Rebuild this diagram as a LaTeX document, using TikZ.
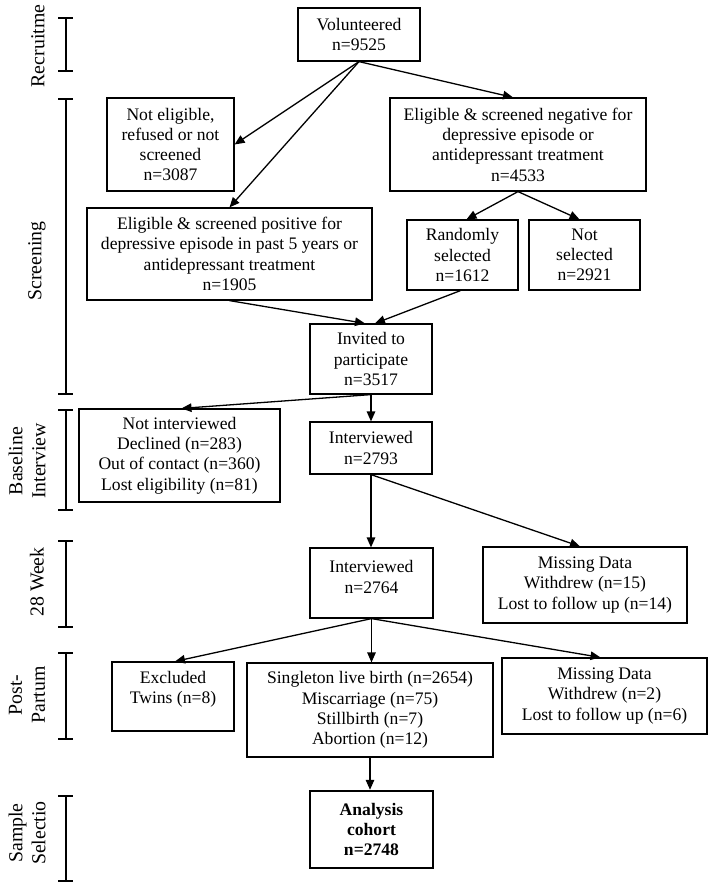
\documentclass[tikz,border=0pt]{standalone}
\usepackage{fontspec}
\setmainfont{Liberation Serif}
\usetikzlibrary{arrows.meta}
\begin{document}
\begin{tikzpicture}[x=1pt,y=-1pt,
  box/.style={draw, line width=1.2pt, align=center, inner sep=0pt, font=\fontsize{17.6}{20.3}\selectfont},
  plaintext/.style={align=center, inner sep=0pt, font=\fontsize{17.6}{20.3}\selectfont},
  thickbox/.style={box, line width=2.4pt, font=\fontsize{17.6}{20.3}\selectfont\bfseries},
  arr/.style={-{Triangle[length=10pt,width=8.5pt]}, line width=1.3pt},
  stagelab/.style={rotate=90, align=center, font=\fontsize{19.8}{23}\selectfont, inner sep=0pt},
  bracket/.style={line width=1.2pt}]
\useasboundingbox (0,0) rectangle (714,889);

% stage brackets
\foreach \a/\b in {18/71, 99/394, 410/510, 541/627, 653/739, 796/881}{
  \draw[bracket] (66,\a)--(66,\b) (58,\a)--(73,\a) (58,\b)--(73,\b);
}
\node[stagelab] (l1) at (38,46) {Recruitme};
\node[stagelab] (l2) at (37,261) {Screening};
\node[stagelab] (l3) at (27,461) {Baseline\\Interview};
\node[stagelab] (l4) at (37,582) {28 Week};
\node[stagelab] (l5) at (27,695) {Post-\\Partum};
\node[stagelab] (l6) at (27,833) {Sample\\Selectio};

% boxes
\node[box, minimum width=122pt, minimum height=53pt] (vol) at (359,34.5) {Volunteered\\n=9525};
\node[box, minimum width=127pt, minimum height=93pt] (notel) at (170.5,144.5) {Not eligible,\\refused or not\\screened\\n=3087};
\node[box, minimum width=256pt, minimum height=93pt] (neg) at (518,144.5) {Eligible \& screened negative for\\depressive episode or\\antidepressant treatment\\n=4533};
\node[box, minimum width=285pt, minimum height=92pt] (pos) at (229.5,254) {Eligible \& screened positive for\\depressive episode in past 5 years or\\antidepressant treatment\\n=1905};
\node[box, minimum width=111pt, minimum height=70pt] (rand) at (462.5,255) {Randomly\\selected\\n=1612};
\node[box, minimum width=111pt, minimum height=70pt] (notsel) at (584.5,255) {Not\\selected\\n=2921};
\node[box, minimum width=122pt, minimum height=70pt] (inv) at (371,359) {Invited to\\participate\\n=3517};
\node[box, minimum width=201pt, minimum height=93pt] (notint) at (179.5,455.5) {Not interviewed\\Declined (n=283)\\Out of contact (n=360)\\Lost eligibility (n=81)};
\node[box, minimum width=122pt, minimum height=52pt] (int1) at (371,448) {Interviewed\\n=2793};
\node[box, minimum width=123pt, minimum height=70pt] (int2) at (371.5,583) {};
\node[plaintext] (int2t) at (371.5,577) {Interviewed\\n=2764};
\node[box, minimum width=204pt, minimum height=76pt] (miss1) at (585,585) {Missing Data\\Withdrew (n=15)\\Lost to follow up (n=14)};
\node[box, minimum width=122pt, minimum height=69pt] (excl) at (173,696.5) {};
\node[plaintext] (exclt) at (173,689) {Excluded\\Twins (n=8)};
\node[box, minimum width=246pt, minimum height=94pt] (single) at (370,710) {Singleton live birth (n=2654)\\Miscarriage (n=75)\\Stillbirth (n=7)\\Abortion (n=12)};
\node[box, minimum width=205pt, minimum height=76pt] (miss2) at (604.5,696) {Missing Data\\Withdrew (n=2)\\Lost to follow up (n=6)};
\node[thickbox, minimum width=123pt, minimum height=77pt] (anal) at (371.5,829.5) {Analysis\\cohort\\n=2748};

% connectors
\draw[arr] (vol.south) -- (notel.east);
\draw[arr] (vol.south) -- (pos.north);
\draw[arr] (vol.south) -- ([xshift=-5pt]neg.north);
\draw[arr] (neg.south) -- ([xshift=4pt]rand.north);
\draw[arr] (neg.south) -- ([xshift=-5pt]notsel.north);
\draw[arr] (pos.south) -- ([xshift=-6pt]inv.north);
\draw[arr] ([xshift=-2pt]rand.south) -- ([xshift=4pt]inv.north);
\draw[arr] (inv.south) -- ([xshift=2pt]notint.north);
\draw[arr] (inv.south) -- (int1.north);
\draw[arr] (int1.south) -- (int1.south |- int2.north);
\draw[arr] (int1.south) -- ([xshift=-5pt]miss1.north);
\draw[arr] (int2.south) -- (int2.south |- single.north);
\draw[arr] (int2.south) -- ([xshift=2pt]excl.north);
\draw[arr] (int2.south) -- ([xshift=-4pt]miss2.north);
\draw[arr] (single.south) -- (single.south |- anal.north);
\end{tikzpicture}
\end{document}
